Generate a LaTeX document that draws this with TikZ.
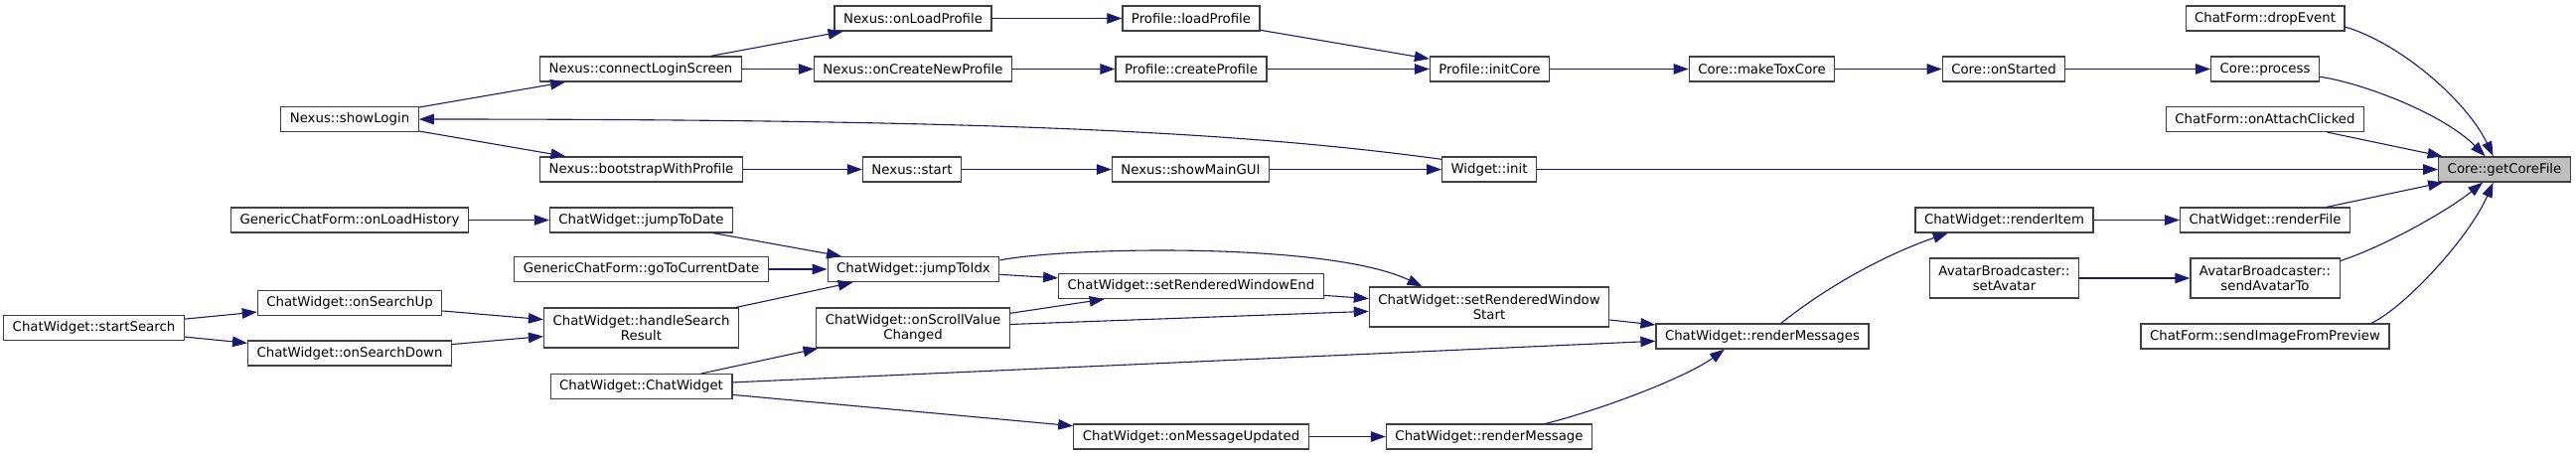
\documentclass[tikz,border=0pt]{standalone}
\usepackage{fontspec}
\setmainfont{DejaVu Sans}
\usetikzlibrary{arrows.meta}
\definecolor{edgeblue}{HTML}{191970}
\definecolor{boxline}{HTML}{404040}
\definecolor{boxgrey}{HTML}{BFBFBF}
\begin{document}
\begin{tikzpicture}[x=1pt,y=-1pt,
  fn/.style={draw=boxline, line width=1.2pt, fill=white, align=center, minimum height=25pt,
    inner xsep=9pt, inner ysep=2pt, font=\fontsize{13.3pt}{15pt}\selectfont},
  fn2/.style={fn, minimum height=40pt},
  call/.style={draw=edgeblue, line width=1.1pt, -{Triangle[length=15pt,width=10.5pt]}}]
\useasboundingbox (0,0) rectangle (2593,459);

\node[fn] (showlogin) at (352,120) {Nexus::showLogin};
\node[fn] (connect) at (645,69.5) {Nexus::connectLoginScreen};
\node[fn] (bootstrap) at (645.5,170.5) {Nexus::bootstrapWithProfile};
\node[fn] (loadhist) at (352,221.5) {GenericChatForm::onLoadHistory};
\node[fn] (jumpdate) at (645.5,221.5) {ChatWidget::jumpToDate};
\node[fn] (onload) at (919,18.5) {Nexus::onLoadProfile};
\node[fn] (oncreate) at (919,69.5) {Nexus::onCreateNewProfile};
\node[fn] (loadprof) at (1199,18.5) {Profile::loadProfile};
\node[fn] (createprof) at (1199,69.5) {Profile::createProfile};
\node[fn] (initcore) at (1499.5,69.5) {Profile::initCore};
\node[fn] (maketox) at (1773.5,69.5) {Core::makeToxCore};
\node[fn] (started) at (2017,69.5) {Core::onStarted};
\node[fn] (process) at (2280,69.5) {Core::process};
\node[fn] (drop) at (2280,18.5) {ChatForm::dropEvent};
\node[fn] (attach) at (2280,120) {ChatForm::onAttachClicked};
\node[fn, fill=boxgrey] (getcore) at (2521,170.5) {Core::getCoreFile};
\node[fn] (nstart) at (918,170.5) {Nexus::start};
\node[fn] (maingui) at (1198.5,170.5) {Nexus::showMainGUI};
\node[fn] (winit) at (1499,170.5) {Widget::init};
\node[fn] (ritem) at (2017.5,221.5) {ChatWidget::renderItem};
\node[fn] (rfile) at (2280,221.5) {ChatWidget::renderFile};
\node[fn] (curdate) at (645.5,271) {GenericChatForm::goToCurrentDate};
\node[fn] (jidx) at (919.5,271) {ChatWidget::jumpToIdx};
\node[fn] (sup) at (352,305) {ChatWidget::onSearchUp};
\node[fn] (ssearch) at (94.5,330) {ChatWidget::startSearch};
\node[fn] (sdown) at (352,355.5) {ChatWidget::onSearchDown};
\node[fn2] (hsearch) at (645.5,330) {ChatWidget::handleSearch\\Result};
\node[fn2] (scroll) at (919,330) {ChatWidget::onScrollValue\\Changed};
\node[fn] (cwidget) at (645.5,389) {ChatWidget::ChatWidget};
\node[fn] (setend) at (1199,288) {ChatWidget::setRenderedWindowEnd};
\node[fn2] (setstart) at (1499,309) {ChatWidget::setRenderedWindow\\Start};
\node[fn] (rmsgs) at (1774,338.5) {ChatWidget::renderMessages};
\node[fn] (msgupd) at (1199,439.5) {ChatWidget::onMessageUpdated};
\node[fn] (rmsg) at (1499,439.5) {ChatWidget::renderMessage};
\node[fn2] (setav) at (2017.5,280) {AvatarBroadcaster::\\setAvatar};
\node[fn2] (sendav) at (2280,280) {AvatarBroadcaster::\\sendAvatarTo};
\node[fn] (sendimg) at (2280,338.5) {ChatForm::sendImageFromPreview};

\draw[call] (showlogin) -- (connect);
\draw[call] (showlogin) -- (bootstrap);
\draw[call] (winit.168) .. controls (1250,133) and (1000,120) .. (showlogin.east);
\draw[call] (connect) -- (onload);
\draw[call] (connect) -- (oncreate);
\draw[call] (onload) -- (loadprof);
\draw[call] (oncreate) -- (createprof);
\draw[call] (loadprof) -- (initcore);
\draw[call] (createprof) -- (initcore);
\draw[call] (initcore) -- (maketox);
\draw[call] (maketox) -- (started);
\draw[call] (started) -- (process);
\draw[call] (process.-8) .. controls (2380,84) and (2460,115) .. (getcore.146);
\draw[call] (drop.-6) .. controls (2420,45) and (2485,105) .. (getcore.131);
\draw[call] (attach) -- (getcore);
\draw[call] (winit) -- (getcore);
\draw[call] (bootstrap) -- (nstart);
\draw[call] (nstart) -- (maingui);
\draw[call] (maingui) -- (winit);
\draw[call] (loadhist) -- (jumpdate);
\draw[call] (jumpdate) -- (jidx);
\draw[call] (curdate) -- (jidx);
\draw[call] (hsearch) -- (jidx);
\draw[call] (sup) -- (hsearch);
\draw[call] (sdown) -- (hsearch);
\draw[call] (ssearch) -- (sup);
\draw[call] (ssearch) -- (sdown);
\draw[call] (jidx) -- (setend);
\draw[call] (jidx.6) .. controls (1080,248) and (1340,244) .. (setstart.163);
\draw[call] (scroll) -- (setend);
\draw[call] (scroll) -- (setstart);
\draw[call] (setend) -- (setstart);
\draw[call] (setstart) -- (rmsgs);
\draw[call] (cwidget) -- (scroll);
\draw[call] (cwidget) -- (rmsgs);
\draw[call] (cwidget) -- (msgupd);
\draw[call] (msgupd) -- (rmsg);
\draw[call] (rmsg.13) .. controls (1620,410) and (1700,378) .. (rmsgs.-161);
\draw[call] (rmsgs.35) .. controls (1850,280) and (1910,252) .. (ritem.-167);
\draw[call] (ritem) -- (rfile);
\draw[call] (rfile) -- (getcore);
\draw[call] (setav) -- (sendav);
\draw[call] (sendav.13) .. controls (2395,250) and (2460,215) .. (getcore.-149);
\draw[call] (sendimg.7) .. controls (2420,310) and (2485,240) .. (getcore.-131);
\end{tikzpicture}
\end{document}
